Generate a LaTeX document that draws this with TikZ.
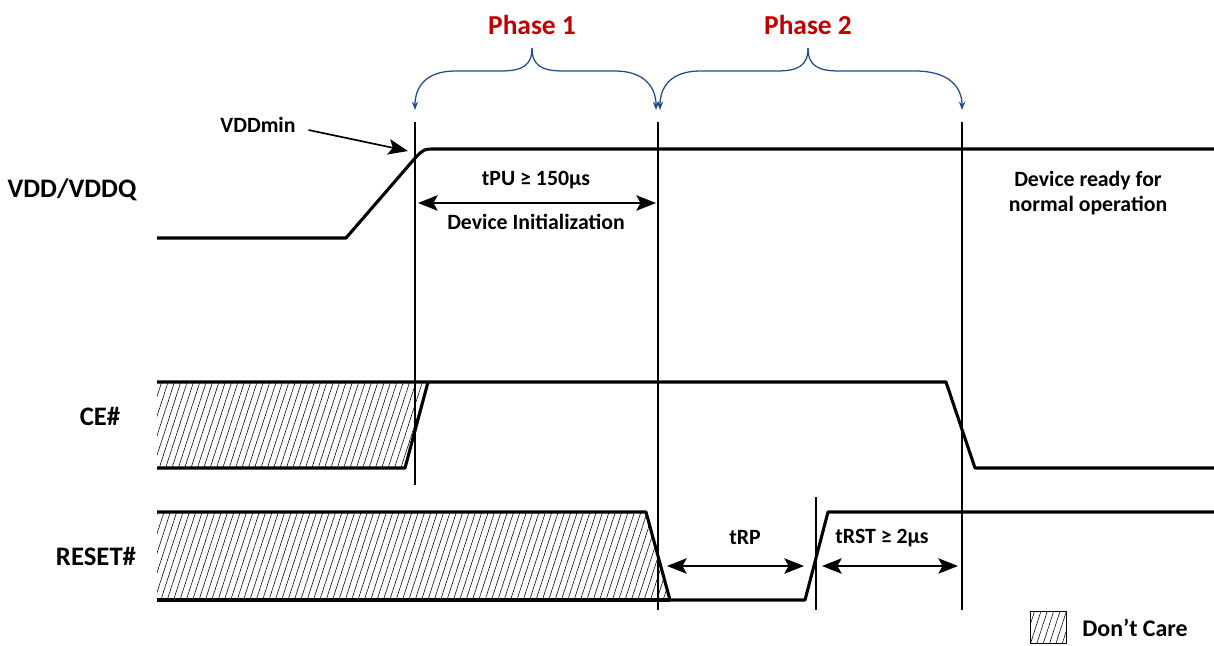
\documentclass[tikz,border=0pt]{standalone}
\usepackage{fontspec}
\setmainfont{Carlito}
\usetikzlibrary{arrows.meta,patterns.meta}
\definecolor{phasered}{RGB}{192,0,0}
\definecolor{braceblue}{RGB}{31,78,140}
\tikzset{
  sig/.style={line width=2.2pt},
  guide/.style={line width=0.8pt},
  dim/.style={<->,line width=1.2pt},
  lbl/.style={font=\fontsize{15.5}{18}\selectfont\bfseries},
  siglbl/.style={font=\fontsize{19}{22}\selectfont\bfseries},
  phase/.style={text=phasered,font=\fontsize{19.5}{22}\selectfont\bfseries},
  brace/.style={draw=braceblue,line width=0.9pt,-{Stealth[length=6pt,width=4.5pt]}},
  hatch/.style={pattern={Lines[angle=72,distance=4.3pt,line width=0.4pt]}}
}
\begin{document}
\begin{tikzpicture}[x=0.025cm,y=-0.025cm,>={Stealth[length=14pt,width=11pt,inset=3pt]},line join=round]
  \def\xl{157} \def\xr{1214}
  \useasboundingbox (0,0) rectangle (\xr,645);
  % time markers
  \coordinate (pu) at (415,0);
  \coordinate (rs) at (658,0);
  \coordinate (rp) at (816,0);
  \coordinate (rdy) at (962,0);
  \draw[guide] (pu|-0,122) -- (pu|-0,485);
  \draw[guide] (rs|-0,122) -- (rs|-0,610);
  \draw[guide] (rdy|-0,122) -- (rdy|-0,610);
  \draw[guide] (rp|-0,497) -- (rp|-0,610);
  % phases
  \node[phase] (ph1) at (532,25) {Phase 1};
  \node[phase] (ph2) at (808,25) {Phase 2};
  \draw[brace] (532,48) .. controls (532,66) and (522,71) .. (500,71) -- (455,71) .. controls (425,71) and (415,88) .. (pu|-0,110);
  \draw[brace] (532,48) .. controls (532,66) and (542,71) .. (564,71) -- (615,71) .. controls (645,71) and (656,88) .. (656,110);
  \draw[brace] (808,48) .. controls (808,66) and (798,71) .. (776,71) -- (700,71) .. controls (670,71) and (660,88) .. (660,110);
  \draw[brace] (808,48) .. controls (808,66) and (818,71) .. (840,71) -- (915,71) .. controls (950,71) and (962,88) .. (rdy|-0,110);
  % VDD/VDDQ
  \node[siglbl] (vdd) at (72,190) {VDD/VDDQ};
  \draw[sig] (\xl,238) -- (346,238) -- (416,157) .. controls (424,149) .. (436,149) -- (\xr,149);
  \node[lbl] (vddmin) at (258,125) {VDDmin};
  \draw[->,line width=1.2pt] (vddmin.east) ++(8,5) -- (408,151);
  \node[lbl] (tpu) at (536,180) {tPU ≥ 150µs};
  \draw[dim] (418,203) -- (656,203);
  \node[lbl] (init) at (536,222) {Device Initialization};
  \node[lbl,align=center] (ready) at (1088,193) {Device ready for\\normal operation};
  % CE#
  \node[siglbl] (ce) at (100,416) {CE\#};
  \path[hatch] (\xl,382) -- (428,382) -- (405,468) -- (\xl,468) -- cycle;
  \draw[sig] (\xl,382) -- (946,382) -- (975,468) -- (\xr,468);
  \draw[sig] (\xl,468) -- (405,468) -- (428,382);
  % RESET#
  \node[siglbl] (reset) at (96,556) {RESET\#};
  \path[hatch] (\xl,512) -- (646,512) -- (670,600) -- (\xl,600) -- cycle;
  \draw[sig] (\xl,512) -- (646,512) -- (670,600) -- (805,600) -- (828,512) -- (\xr,512);
  \draw[sig] (\xl,600) -- (670,600);
  \node[lbl] (trp) at (745,538) {tRP};
  \draw[dim] (667,566) -- (804,566);
  \node[lbl] (trst) at (882,538) {tRST ≥ 2µs};
  \draw[dim] (822,566) -- (958,566);
  % legend
  \draw[line width=0.6pt,hatch] (1030,611) rectangle (1066,643);
  \node[lbl,font=\fontsize{17}{20}\selectfont\bfseries] (dc) at (1135,628) {Don’t Care};
\end{tikzpicture}
\end{document}
